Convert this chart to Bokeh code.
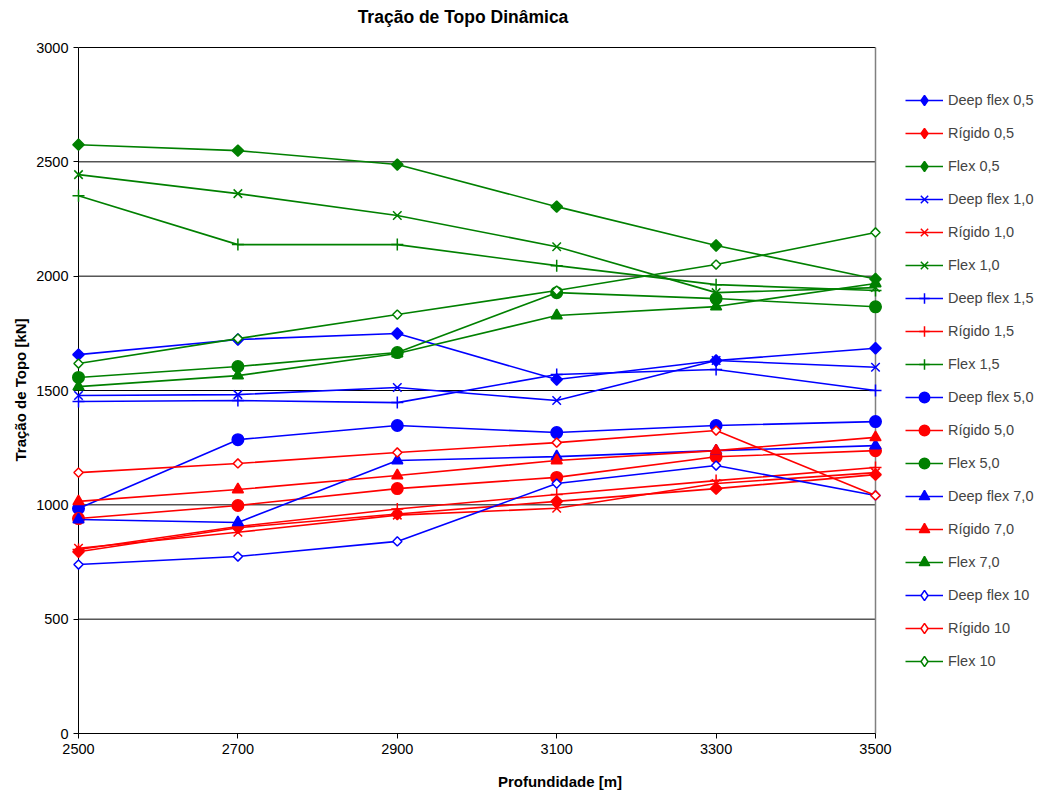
import math
from bokeh.plotting import figure
from bokeh.models import Range1d, FixedTicker, Legend, LegendItem, Label, Title
from bokeh.embed import file_html
from bokeh.resources import INLINE

depth = [2500, 2700, 2900, 3100, 3300, 3500]
y_ticks = [0, 500, 1000, 1500, 2000, 2500, 3000]

deep_flex_05 = [1657, 1723, 1749, 1548, 1631, 1685]
rigido_05 = [795, 900, 960, 1015, 1071, 1132]
flex_05 = [2575, 2549, 2488, 2304, 2134, 1988]
deep_flex_10 = [1478, 1482, 1513, 1456, 1631, 1602]
rigido_10 = [810, 880, 955, 985, 1093, 1141]
flex_10 = [2444, 2361, 2265, 2129, 1928, 1950]
deep_flex_15 = [1452, 1456, 1447, 1570, 1592, 1500]
rigido_15 = [805, 905, 982, 1045, 1106, 1163]
flex_15 = [2352, 2138, 2138, 2046, 1963, 1937]
deep_flex_50 = [984, 1285, 1347, 1316, 1347, 1364]
rigido_50 = [940, 997, 1071, 1120, 1210, 1237]
flex_50 = [1557, 1605, 1666, 1928, 1902, 1866]
deep_flex_70 = [936, 923, 1194, 1211, 1237, 1259]
rigido_70 = [1015, 1067, 1128, 1194, 1237, 1295]
flex_70 = [1517, 1565, 1662, 1828, 1867, 1968]
deep_flex_100 = [739, 774, 840, 1093, 1172, 1041]
rigido_100 = [1141, 1181, 1229, 1272, 1325, 1041]
flex_100 = [1618, 1727, 1832, 1937, 2051, 2191]

series = [
    ("Deep flex 0,5", deep_flex_05, "#0000FF", "diamond", True),
    ("Rígido 0,5", rigido_05, "#FF0000", "diamond", True),
    ("Flex 0,5", flex_05, "#008000", "diamond", True),
    ("Deep flex 1,0", deep_flex_10, "#0000FF", "x", True),
    ("Rígido 1,0", rigido_10, "#FF0000", "x", True),
    ("Flex 1,0", flex_10, "#008000", "x", True),
    ("Deep flex 1,5", deep_flex_15, "#0000FF", "cross", True),
    ("Rígido 1,5", rigido_15, "#FF0000", "cross", True),
    ("Flex 1,5", flex_15, "#008000", "cross", True),
    ("Deep flex 5,0", deep_flex_50, "#0000FF", "circle", True),
    ("Rígido 5,0", rigido_50, "#FF0000", "circle", True),
    ("Flex 5,0", flex_50, "#008000", "circle", True),
    ("Deep flex 7,0", deep_flex_70, "#0000FF", "triangle", True),
    ("Rígido 7,0", rigido_70, "#FF0000", "triangle", True),
    ("Flex 7,0", flex_70, "#008000", "triangle", True),
    ("Deep flex 10", deep_flex_100, "#0000FF", "diamond", False),
    ("Rígido 10", rigido_100, "#FF0000", "diamond", False),
    ("Flex 10", flex_100, "#008000", "diamond", False),
]

FONT = "Liberation Sans"

W, H = 1041, 793
LEFT, BOTTOM = 78, 60
PLOT_RIGHT, PLOT_TOP = 875, 47
X0, X1 = depth[0], depth[-1]
Y0, Y1 = y_ticks[0], y_ticks[-1]
frame_w = W - LEFT
frame_h = H - BOTTOM
x_end = X0 + (X1 - X0) * frame_w / (PLOT_RIGHT - LEFT)
y_end = Y0 + (Y1 - Y0) * frame_h / (frame_h - PLOT_TOP)

p = figure(width=W, height=H, x_range=Range1d(X0, x_end), y_range=Range1d(Y0, y_end),
           output_backend="svg", toolbar_location=None,
           min_border_left=LEFT, min_border_right=0, min_border_top=0, min_border_bottom=BOTTOM)

p.outline_line_color = None
p.background_fill_color = "white"
p.border_fill_color = "white"

p.xgrid.grid_line_color = None
p.ygrid.grid_line_color = None
# horizontal gridlines, limited to the plot area
p.segment(x0=[X0] * len(y_ticks), x1=[X1] * len(y_ticks), y0=y_ticks, y1=y_ticks,
          line_color="#000000", line_width=1)
# right border of plot area
p.segment(x0=[X1], x1=[X1], y0=[Y0], y1=[Y1], line_color="#808080", line_width=1.5)

p.xaxis.ticker = FixedTicker(ticks=depth)
p.yaxis.ticker = FixedTicker(ticks=y_ticks)
p.xaxis.bounds = (X0, X1)
p.yaxis.bounds = (Y0, Y1)
p.xaxis.minor_tick_line_color = None
p.yaxis.minor_tick_line_color = None
for ax in (p.xaxis, p.yaxis):
    ax.axis_line_color = "#000000"
    ax.major_tick_line_color = "#000000"
    ax.major_tick_out = 5
    ax.major_tick_in = 0
    ax.major_label_text_font = FONT
    ax.major_label_text_font_size = "14.5px"
    ax.major_label_text_color = "#000000"
    ax.axis_label_text_font = FONT
    ax.axis_label_text_font_size = "15px"
    ax.axis_label_text_font_style = "bold"
    ax.axis_label_text_color = "#000000"
p.xaxis.axis_label = "Profundidade [m]"
p.xaxis.axis_label_standoff = 16

# y-axis title, centred on the plot area (not on the extended frame)
ytitle = Title(text="Tração de Topo [kN]", align="left", offset=272, standoff=9,
               text_font=FONT, text_font_size="15px", text_font_style="bold", text_color="#000000")
p.add_layout(ytitle, "left")

# chart title, placed above the plot area
title = Label(x=(PLOT_RIGHT + LEFT) / 2 - LEFT - 14, y=frame_h - 16, x_units="screen", y_units="screen",
              text="Tração de Topo Dinâmica", text_font=FONT, text_font_size="17.5px",
              text_font_style="bold", text_color="#000000", text_align="center",
              text_baseline="middle")
p.add_layout(title)

items = []
for name, vals, color, marker, filled in series:
    lr = p.line(depth, vals, line_color=color, line_width=1.6, level="overlay")
    fill = color if filled else "white"
    if marker == "diamond":
        size = 8 if filled else 6.5
        sr = p.scatter(depth, vals, marker="square", size=size, angle=math.pi / 4, line_color=color,
                       fill_color=fill, line_width=1.5, level="overlay")
        # legend swatch only (no visible point in the plot)
        lg = p.scatter([depth[0]], [float("nan")], marker="diamond", size=10, line_color=color,
                       fill_color=fill, line_width=1.5, level="overlay")
        items.append(LegendItem(label=name, renderers=[lr, lg]))
    else:
        size = {"x": 12, "cross": 12, "circle": 11.5, "triangle": 11}[marker]
        sr = p.scatter(depth, vals, marker=marker, size=size, line_color=color,
                       fill_color=fill, line_width=1.5, level="overlay")
        items.append(LegendItem(label=name, renderers=[lr, sr]))

legend = Legend(items=items, location=(905 - LEFT, 59))
legend.border_line_color = None
legend.background_fill_alpha = 0
legend.label_text_font = FONT
legend.label_text_font_size = "14.5px"
legend.glyph_width = 38
legend.glyph_height = 26
legend.label_height = 26
legend.spacing = 7
legend.padding = 0
legend.margin = 0
legend.label_standoff = 5
p.add_layout(legend)

open("out.html", "w").write(file_html(p, INLINE))
